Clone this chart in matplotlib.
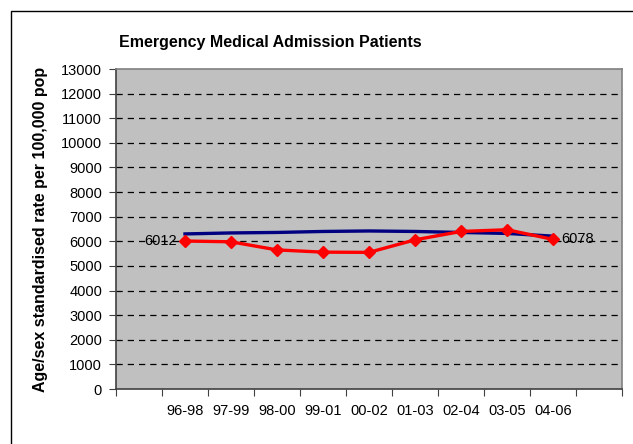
import numpy as np
import matplotlib.pyplot as plt
from matplotlib.patches import Rectangle

plt.rcParams['font.family'] = ['Liberation Sans', 'DejaVu Sans']

# 类别 (首尾为空位)
categories = ['', '96-98', '97-99', '98-00', '99-01', '00-02',
              '01-03', '02-04', '03-05', '04-06', '']
periods = categories[1:-1]
local_rate = [6012, 5980, 5650, 5560, 5550, 6060, 6400, 6470, 6078]
national_rate = [6300, 6340, 6360, 6400, 6420, 6400, 6360, 6320, 6210]

fig = plt.figure(figsize=(6.33, 4.44), dpi=100)
ax = fig.add_axes([116 / 633, 1 - 389 / 444, 506 / 633, 320 / 444])
ax.set_facecolor('#C0C0C0')

x = np.arange(1, len(periods) + 1)

ax.plot(x, national_rate, color='#000080', linewidth=2.4, zorder=3)
ax.plot(x, local_rate, color='#FF0000', linewidth=2.4, marker='D',
        markersize=6.5, zorder=4)

# 首尾数据标签
ax.annotate(f'{local_rate[0]}', (x[0], local_rate[0]), xytext=(-6, 0),
            textcoords='offset points', ha='right', va='center', fontsize=10.5)
ax.annotate(f'{local_rate[-1]}', (x[-1], local_rate[-1]), xytext=(6, 0),
            textcoords='offset points', ha='left', va='center', fontsize=10.5)

ax.set_xlim(-0.5, len(categories) - 0.5)
ax.set_ylim(0, 13000)
ax.set_yticks(np.arange(0, 13001, 1000))
ax.set_xticks(np.arange(-0.5, len(categories), 1.0))
ax.set_xticklabels([])
ax.set_xticks(np.arange(len(categories)), minor=True)
ax.set_xticklabels(categories, minor=True)
ax.tick_params(axis='x', which='minor', length=0, pad=11, labelsize=10.5)
ax.tick_params(axis='x', which='major', length=5, direction='out', color='#404040')
ax.tick_params(axis='y', length=5, direction='out', labelsize=10.5, pad=5,
               color='#404040')

for yv in range(1000, 13000, 1000):
    ax.axhline(yv, color='black', linewidth=0.9, linestyle=(0, (5, 4)), zorder=1)

for side in ['left', 'bottom']:
    ax.spines[side].set_color('#404040')
    ax.spines[side].set_linewidth(1.2)
for side in ['top', 'right']:
    ax.spines[side].set_color('#808080')
    ax.spines[side].set_linewidth(1.2)

ax.set_ylabel('Age/sex standardised rate per 100,000 pop', fontsize=11.5,
              fontweight='bold', labelpad=9)

fig.text(270 / 633, 1 - 43 / 444, 'Emergency Medical Admission Patients',
         ha='center', va='center', fontsize=11.5, fontweight='bold')

# 外框
fig.patches.append(Rectangle((11 / 633, -0.2), 1.2, 1 - 11 / 444 + 0.2,
                             transform=fig.transFigure, fill=False,
                             edgecolor='black', linewidth=1.0))

fig.savefig('out.png', dpi=100)
